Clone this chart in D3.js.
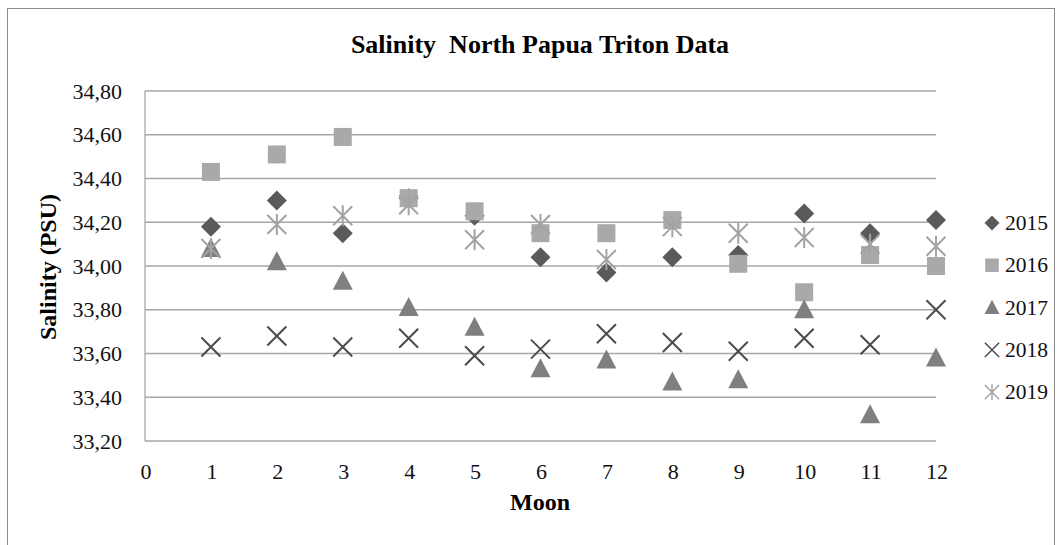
<!DOCTYPE html>
<html><head><meta charset="utf-8">
<script src="https://cdn.jsdelivr.net/npm/d3@7"></script>
<style>body{margin:0;background:#fff}svg{display:block}text{font-family:"Liberation Serif","Times New Roman",serif}</style>
</head><body><div id="chart"></div>
<script>
const months = [1,2,3,4,5,6,7,8,9,10,11,12];
const yTicks = [33.2,33.4,33.6,33.8,34.0,34.2,34.4,34.6,34.8];
const xTicks = [0,1,2,3,4,5,6,7,8,9,10,11,12];
const s2015 = [34.18,34.30,34.15,34.31,34.23,34.04,33.97,34.04,34.05,34.24,34.15,34.21];
const s2016 = [34.43,34.51,34.59,34.31,34.25,34.15,34.15,34.21,34.01,33.88,34.05,34.00];
const s2017 = [34.08,34.02,33.93,33.81,33.72,33.53,33.57,33.47,33.48,33.80,33.32,33.58];
const s2018 = [33.63,33.68,33.63,33.67,33.59,33.62,33.69,33.65,33.61,33.67,33.64,33.80];
const s2019 = [34.08,34.19,34.23,34.28,34.12,34.19,34.03,34.18,34.15,34.13,34.10,34.09];
const seriesNames = ["2015","2016","2017","2018","2019"];

const W=1062,H=545;
const svg=d3.select("#chart").append("svg").attr("width",W).attr("height",H);
svg.append("rect").attr("x",7.5).attr("y",8.5).attr("width",1047).attr("height",560)
  .attr("fill","#fff").attr("stroke","#8c8c8c").attr("stroke-width",1);

const x=d3.scaleLinear().domain([0,12]).range([145,936]);
const y=d3.scaleLinear().domain([33.2,34.8]).range([441,91]);

// gridlines
svg.append("g").selectAll("line").data(yTicks).join("line")
  .attr("x1",x(0)).attr("x2",x(12)).attr("y1",d=>y(d)).attr("y2",d=>y(d))
  .attr("stroke","#a6a6a6").attr("stroke-width",1.3);
svg.append("line").attr("x1",x(0)).attr("x2",x(0)).attr("y1",y(34.8)).attr("y2",y(33.2))
  .attr("stroke","#a6a6a6").attr("stroke-width",1.3);

// y tick labels
svg.append("g").selectAll("text").data(yTicks).join("text")
  .attr("x",x(0)-23).attr("y",d=>y(d)).attr("dy","0.35em").attr("text-anchor","end")
  .attr("font-size",22).attr("fill","#111")
  .text(d=>d3.format(".2f")(d).replace(".",","));
// x tick labels
svg.append("g").selectAll("text").data(xTicks).join("text")
  .attr("x",d=>x(d)+1).attr("y",479).attr("text-anchor","middle")
  .attr("font-size",22).attr("fill","#111").text(d=>d);

// titles
svg.append("text").attr("x",540).attr("y",53).attr("text-anchor","middle")
  .attr("font-size",26).attr("font-weight","bold").style("white-space","pre")
  .text("Salinity  North Papua Triton Data");
svg.append("text").attr("x",540).attr("y",510).attr("text-anchor","middle")
  .attr("font-size",24).attr("font-weight","bold").text("Moon");
svg.append("text").attr("transform","translate(56,267) rotate(-90)").attr("text-anchor","middle")
  .attr("font-size",24).attr("font-weight","bold").text("Salinity (PSU)");

// symbol generators (shape relative to center, scale k)
const shapes = {
  diamond:(k)=>`M0,${-10*k}L${10*k},0L0,${10*k}L${-10*k},0Z`,
  square:(k)=>`M${-9*k},${-9*k}h${18*k}v${18*k}h${-18*k}Z`,
  triangle:(k)=>`M0,${-10.5*k}L${10*k},${8.5*k}L${-10*k},${8.5*k}Z`,
  cross:(k)=>`M${-9.5*k},${-9.5*k}L${9.5*k},${9.5*k}M${9.5*k},${-9.5*k}L${-9.5*k},${9.5*k}`,
  star:(k)=>`M${-9.5*k},${-9.5*k}L${9.5*k},${9.5*k}M${9.5*k},${-9.5*k}L${-9.5*k},${9.5*k}M0,${-10.5*k}L0,${10.5*k}`
};
const series = [
  {name:"2015",vals:s2015,shape:"diamond",color:"#5a5a5a",fill:true},
  {name:"2016",vals:s2016,shape:"square",color:"#a9a9a9",fill:true},
  {name:"2017",vals:s2017,shape:"triangle",color:"#7f7f7f",fill:true},
  {name:"2018",vals:s2018,shape:"cross",color:"#4b4b4b",fill:false},
  {name:"2019",vals:s2019,shape:"star",color:"#a3a3a3",fill:false}
];
series.forEach(s=>{
  svg.append("g").selectAll("path").data(s.vals.map((v,i)=>[months[i],v])).join("path")
    .attr("transform",d=>`translate(${x(d[0])},${y(d[1])})`)
    .attr("d",shapes[s.shape](1))
    .attr("fill",s.fill?s.color:"none")
    .attr("stroke",s.fill?"none":s.color).attr("stroke-width",2);
});

// legend
const lg=svg.append("g");
series.forEach((s,i)=>{
  const yy=223+i*42.3;
  lg.append("path").attr("transform",`translate(992,${yy})`).attr("d",shapes[s.shape](0.75))
    .attr("fill",s.fill?s.color:"none").attr("stroke",s.fill?"none":s.color).attr("stroke-width",1.5);
  lg.append("text").attr("x",1005).attr("y",yy).attr("dy","0.33em")
    .attr("font-size",21.5).attr("fill","#111").text(s.name);
});
</script></body></html>
